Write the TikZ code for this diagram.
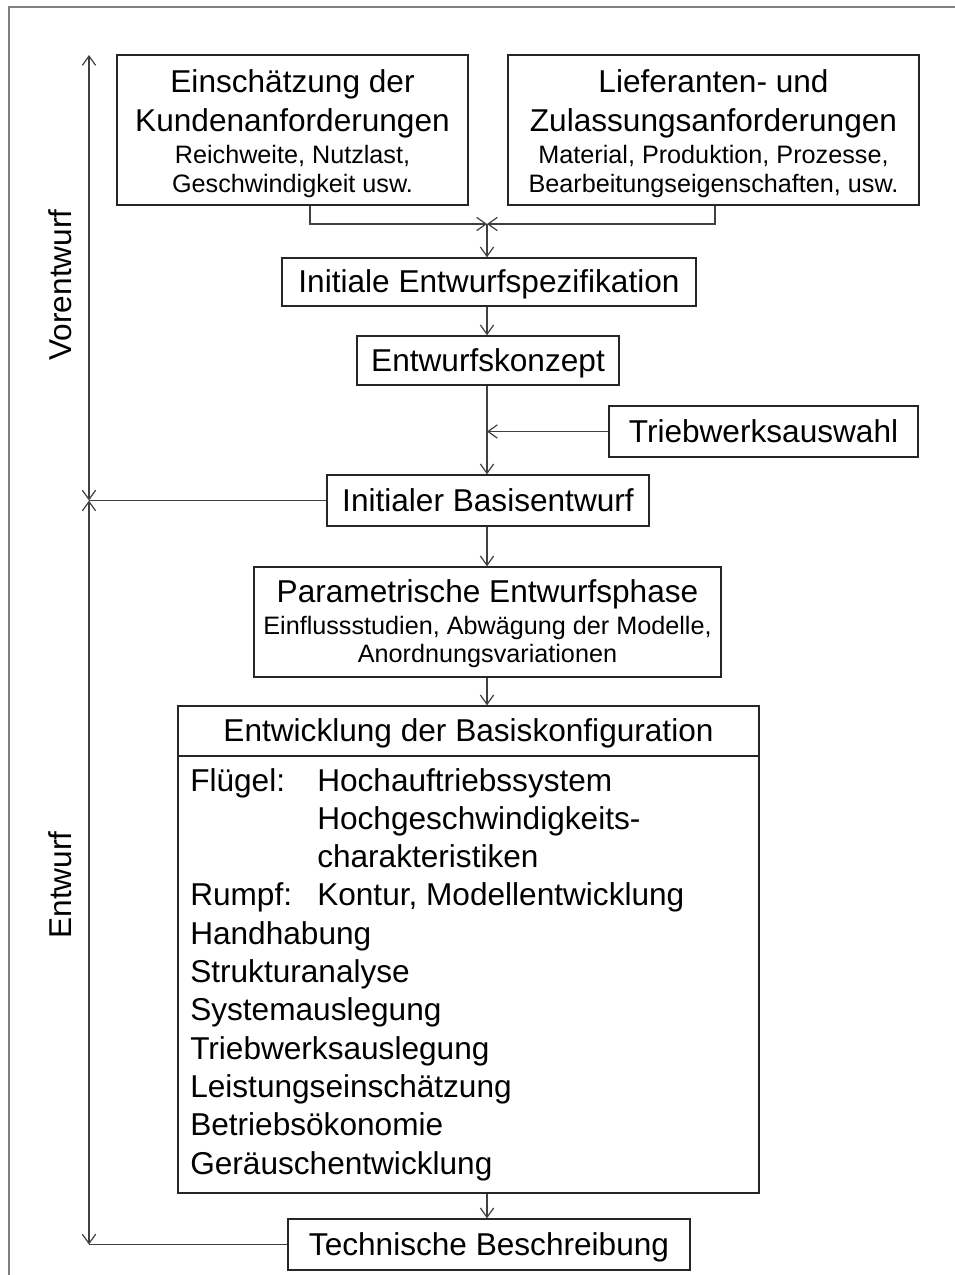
\documentclass[tikz,border=0pt]{standalone}
\usepackage{fontspec}
\setmainfont{Liberation Sans}
\usetikzlibrary{arrows.meta}
\newcommand{\bigf}{\fontsize{23.7}{29}\selectfont}
\newcommand{\smallf}{\fontsize{18.9}{21}\selectfont}
\begin{document}
\begin{tikzpicture}[x=0.75pt,y=-0.75pt,
  box/.style={draw=black!85,line width=1pt,inner sep=0pt,fill=none},
  bt/.style={font=\bigf,inner sep=0pt,anchor=base},
  st/.style={font=\smallf,inner sep=0pt,anchor=base},
  lt/.style={font=\bigf,inner sep=0pt,anchor=base west},
  conn/.style={draw=black!75,line width=0.9pt},
  arr/.style={conn,-{Straight Barb[length=7pt,width=10pt]}},
  arrb/.style={conn,{Straight Barb[length=7pt,width=10pt]}-{Straight Barb[length=7pt,width=10pt]}}]
\useasboundingbox (0,0) rectangle (954,1275);
\fill[white] (0,0) rectangle (954,1275);
\draw[draw=black!50,line width=2.2pt] (9,1280) -- (9,7) -- (960,7);

% boxes
\node[box,minimum width=263.25pt,minimum height=112.5pt] (b1) at (292.5,130) {};
\node[box,minimum width=308.25pt,minimum height=112.5pt] (b2) at (713.5,130) {};
\node[box,minimum width=310.5pt,minimum height=36pt] (spec) at (489,282) {};
\node[box,minimum width=196.5pt,minimum height=36.75pt] (konz) at (488,360.5) {};
\node[box,minimum width=231.75pt,minimum height=38.25pt] (tw) at (763.5,431.5) {};
\node[box,minimum width=241.5pt,minimum height=38.25pt] (basis) at (488,500.5) {};
\node[box,minimum width=350.25pt,minimum height=82.5pt] (param) at (487.5,622) {};
\node[box,minimum width=435.75pt,minimum height=365.25pt] (entw) at (468.5,949.5) {};
\node[box,minimum width=301.5pt,minimum height=38.25pt] (tech) at (489,1244.5) {};

% texts
\node[bt] (t1a) at (292.5,92) {Einschätzung der};
\node[bt] (t1b) at (292.5,131) {Kundenanforderungen};
\node[st] (t1c) at (292.5,163) {Reichweite, Nutzlast,};
\node[st] (t1d) at (292.5,192) {Geschwindigkeit usw.};
\node[bt] (t2a) at (713.5,92) {Lieferanten- und};
\node[bt] (t2b) at (713.5,131) {Zulassungsanforderungen};
\node[st] (t2c) at (713.5,163) {Material, Produktion, Prozesse,};
\node[st] (t2d) at (713.5,192) {Bearbeitungseigenschaften, usw.};
\node[bt] (tspec) at (489,292.5) {Initiale Entwurfspezifikation};
\node[bt] (tkonz) at (488,371) {Entwurfskonzept};
\node[bt] (ttw) at (763.5,442) {Triebwerksauswahl};
\node[bt] (tbas) at (488,511) {Initialer Basisentwurf};
\node[bt] (tpa) at (487.5,602) {Parametrische Entwurfsphase};
\node[st] (tpb) at (487.5,634) {Einflussstudien, Abwägung der Modelle,};
\node[st] (tpc) at (487.5,662) {Anordnungsvariationen};
\node[bt] (ten) at (468.5,741.5) {Entwicklung der Basiskonfiguration};
\coordinate (dv) at (0,756);
\draw[box] (entw.west |- dv) -- (entw.east |- dv);
\node[lt] (l1) at (190,791) {Flügel:};
\node[lt] (l1b) at (317,791) {Hochauftriebssystem};
\node[lt] (l2) at (317,829.3) {Hochgeschwindigkeits-};
\node[lt] (l3) at (317,867.6) {charakteristiken};
\node[lt] (l4) at (190,905.9) {Rumpf:};
\node[lt] (l4b) at (317,905.9) {Kontur, Modellentwicklung};
\node[lt] (l5) at (190,944.2) {Handhabung};
\node[lt] (l6) at (190,982.5) {Strukturanalyse};
\node[lt] (l7) at (190,1020.8) {Systemauslegung};
\node[lt] (l8) at (190,1059.1) {Triebwerksauslegung};
\node[lt] (l9) at (190,1097.4) {Leistungseinschätzung};
\node[lt] (l10) at (190,1135.7) {Betriebsökonomie};
\node[lt] (l11) at (190,1174) {Geräuschentwicklung};
\node[bt] (ttech) at (489,1255) {Technische Beschreibung};

\node[font=\bigf,inner sep=0pt,rotate=90] (vor) at (60,285) {Vorentwurf};
\node[font=\bigf,inner sep=0pt,rotate=90] (ent) at (60,885) {Entwurf};

% connectors
\coordinate (j) at (487,224);
\coordinate (c1) at (310,224);
\coordinate (c2) at (715,224);
\draw[arr] (b1.south -| c1) |- (j);
\draw[arr] (b2.south -| c2) |- (j);
\draw[arr] (j) -- (j |- spec.north);
\draw[arr] (spec.south -| j) -- (konz.north -| j);
\draw[arr] (konz.south -| j) -- (basis.north -| j);
\draw[arr] (tw.west) -- (tw.west -| j);
\draw[arr] (basis.south -| j) -- (param.north -| j);
\draw[arr] (param.south -| j) -- (entw.north -| j);
\draw[arr] (entw.south -| j) -- (tech.north -| j);

\coordinate (L) at (89,55);
\draw[conn] (basis.west) -- (basis.west -| L);
\draw[conn] (tech.west) -- (tech.west -| L);
\draw[arrb] (L) -- (basis.west -| L);
\draw[arrb] (basis.west -| L) -- (tech.west -| L);
\end{tikzpicture}
\end{document}
